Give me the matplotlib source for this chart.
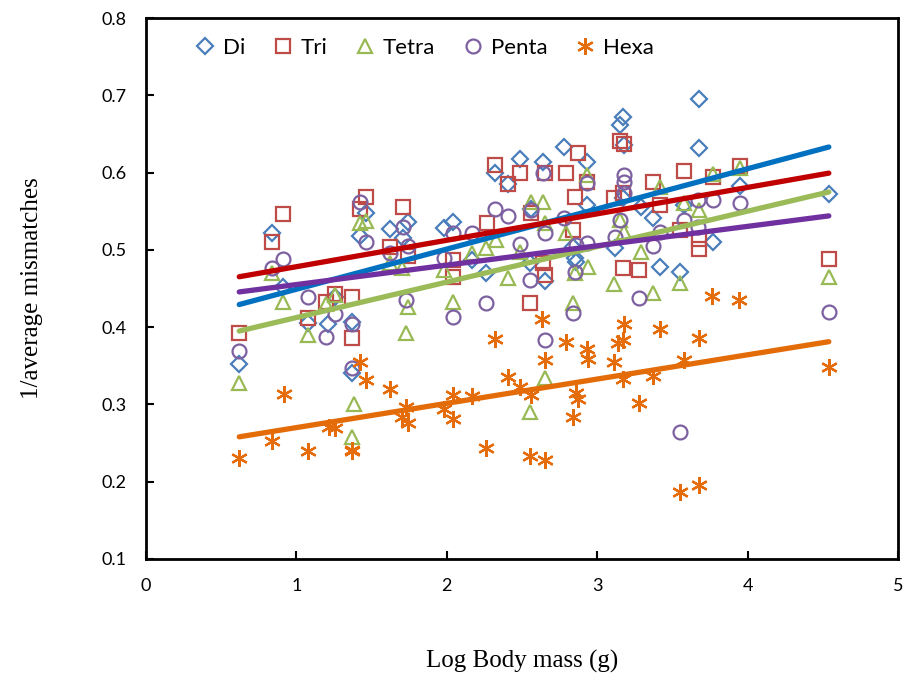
import matplotlib
matplotlib.use('Agg')
import matplotlib.pyplot as plt
import numpy as np

# 数据：log 体重 与 1/平均错配数
di_x = [0.62, 0.84, 0.91, 1.08, 1.21, 1.26, 1.37, 1.37, 1.42, 1.46, 1.62, 1.71, 1.74, 1.98, 2.04,
        2.17, 2.26, 2.32, 2.41, 2.49, 2.55, 2.56, 2.64, 2.65, 2.78, 2.84, 2.85, 2.86, 2.93, 2.93,
        3.12, 3.15, 3.17, 3.17, 3.18, 3.29, 3.37, 3.42, 3.55, 3.58, 3.68, 3.68, 3.77, 3.95, 4.54]
di_y = [0.352, 0.522, 0.452, 0.405, 0.404, 0.439, 0.407, 0.341, 0.518, 0.548, 0.527, 0.515, 0.536, 0.528, 0.536,
        0.487, 0.470, 0.599, 0.585, 0.618, 0.483, 0.553, 0.614, 0.460, 0.633, 0.504, 0.489, 0.484, 0.614, 0.558,
        0.502, 0.662, 0.672, 0.567, 0.636, 0.555, 0.541, 0.478, 0.471, 0.558, 0.695, 0.632, 0.510, 0.583, 0.572]

tri_x = [0.62, 0.84, 0.91, 1.08, 1.20, 1.26, 1.37, 1.37, 1.42, 1.46, 1.62, 1.71, 1.74, 2.04, 2.04,
         2.27, 2.32, 2.41, 2.49, 2.55, 2.56, 2.64, 2.65, 2.65, 2.79, 2.84, 2.85, 2.87, 2.93, 3.11,
         3.15, 3.17, 3.18, 3.17, 3.28, 3.37, 3.42, 3.55, 3.58, 3.68, 3.68, 3.77, 3.95, 4.54]
tri_y = [0.392, 0.510, 0.546, 0.412, 0.433, 0.443, 0.439, 0.386, 0.553, 0.568, 0.504, 0.555, 0.492, 0.487, 0.465,
         0.535, 0.610, 0.585, 0.599, 0.431, 0.548, 0.483, 0.467, 0.599, 0.599, 0.526, 0.568, 0.625, 0.588, 0.567,
         0.641, 0.574, 0.637, 0.477, 0.474, 0.588, 0.558, 0.526, 0.602, 0.514, 0.501, 0.594, 0.609, 0.488]

tetra_x = [0.62, 0.84, 0.91, 1.08, 1.20, 1.26, 1.37, 1.38, 1.42, 1.46, 1.62, 1.70, 1.73, 1.74, 1.98,
           2.04, 2.17, 2.26, 2.33, 2.41, 2.49, 2.55, 2.56, 2.64, 2.65, 2.65, 2.79, 2.84, 2.85, 2.93,
           2.94, 3.11, 3.15, 3.18, 3.29, 3.37, 3.42, 3.55, 3.58, 3.68, 3.77, 3.95, 4.54]
tetra_y = [0.328, 0.470, 0.433, 0.390, 0.430, 0.442, 0.258, 0.301, 0.535, 0.537, 0.483, 0.477, 0.392, 0.426, 0.474,
           0.433, 0.496, 0.502, 0.513, 0.464, 0.497, 0.290, 0.562, 0.562, 0.334, 0.535, 0.522, 0.431, 0.470, 0.597,
           0.478, 0.456, 0.539, 0.523, 0.497, 0.444, 0.581, 0.457, 0.561, 0.552, 0.598, 0.606, 0.465]

penta_x = [0.62, 0.84, 0.91, 1.08, 1.20, 1.26, 1.37, 1.37, 1.42, 1.46, 1.62, 1.71, 1.74, 1.73, 1.98,
           2.04, 2.04, 2.17, 2.26, 2.32, 2.41, 2.49, 2.55, 2.56, 2.64, 2.65, 2.65, 2.78, 2.84, 2.85,
           2.86, 2.93, 2.93, 3.12, 3.15, 3.18, 3.18, 3.18, 3.28, 3.37, 3.42, 3.55, 3.58, 3.67, 3.67,
           3.77, 3.95, 4.54]
penta_y = [0.369, 0.477, 0.488, 0.439, 0.387, 0.417, 0.404, 0.347, 0.562, 0.510, 0.496, 0.530, 0.505, 0.435, 0.489,
           0.522, 0.413, 0.522, 0.431, 0.553, 0.544, 0.508, 0.461, 0.552, 0.599, 0.522, 0.383, 0.541, 0.418, 0.471,
           0.506, 0.587, 0.509, 0.517, 0.539, 0.574, 0.597, 0.588, 0.438, 0.505, 0.523, 0.264, 0.539, 0.530, 0.565,
           0.565, 0.561, 0.420]

hexa_x = [0.62, 0.84, 0.92, 1.08, 1.22, 1.26, 1.37, 1.37, 1.42, 1.46, 1.62, 1.70, 1.73, 1.74, 1.98,
          2.04, 2.04, 2.17, 2.26, 2.32, 2.41, 2.49, 2.55, 2.56, 2.63, 2.65, 2.65, 2.79, 2.84, 2.86,
          2.87, 2.93, 2.94, 3.11, 3.14, 3.17, 3.17, 3.18, 3.28, 3.37, 3.42, 3.55, 3.58, 3.68, 3.68,
          3.76, 3.94, 4.54]
hexa_y = [0.231, 0.253, 0.314, 0.240, 0.271, 0.270, 0.241, 0.240, 0.355, 0.332, 0.320, 0.284, 0.297, 0.276, 0.294,
          0.281, 0.312, 0.311, 0.244, 0.385, 0.336, 0.323, 0.233, 0.312, 0.411, 0.358, 0.228, 0.381, 0.284, 0.315,
          0.307, 0.372, 0.359, 0.355, 0.380, 0.383, 0.333, 0.404, 0.302, 0.337, 0.398, 0.187, 0.358, 0.386, 0.196,
          0.440, 0.435, 0.348]

# 趋势线（斜率, 截距）
trend_slope = [0.0520, 0.0342, 0.0459, 0.0251, 0.0314]
trend_intercept = [0.397, 0.444, 0.3665, 0.430, 0.2386]

names = ['Di', 'Tri', 'Tetra', 'Penta', 'Hexa']
xs = [di_x, tri_x, tetra_x, penta_x, hexa_x]
ys = [di_y, tri_y, tetra_y, penta_y, hexa_y]
marker_colors = ['#4a7ebb', '#be4b48', '#98b954', '#7d60a0', '#e46c0a']
line_colors = ['#0070c0', '#c00000', '#9bbb59', '#7030a0', '#e36c09']
markers = ['D', 's', '^', 'o', (6, 2, 0)]
sizes = [8, 10, 10, 10, 12]

fig = plt.figure(figsize=(9.09, 6.75), dpi=100)
ax = fig.add_axes([0.1606, 0.1719, 0.8273, 0.8014])

for i in range(5):
    ax.plot(xs[i], ys[i], linestyle='none', marker=markers[i], markersize=sizes[i],
            markerfacecolor='none', markeredgecolor=marker_colors[i], markeredgewidth=1.6,
            label=names[i], zorder=3)

for i in range(5):
    xx = np.array([min(xs[i]), max(xs[i])])
    ax.plot(xx, trend_slope[i] * xx + trend_intercept[i], color=line_colors[i],
            linewidth=3.8, solid_capstyle='round', zorder=4)

ax.set_xlim(0, 5)
ax.set_ylim(0.1, 0.8)
ax.set_xticks([0, 1, 2, 3, 4, 5])
ax.set_yticks([0.1, 0.2, 0.3, 0.4, 0.5, 0.6, 0.7, 0.8])
ax.set_xticklabels(['0', '1', '2', '3', '4', '5'], fontfamily='Lato', fontsize=13)
ax.set_yticklabels(['0.1', '0.2', '0.3', '0.4', '0.5', '0.6', '0.7', '0.8'], fontfamily='Lato', fontsize=13)
ax.tick_params(direction='in', length=6, width=1.5, pad=14)
ax.tick_params(axis='x', pad=14)
for s in ax.spines.values():
    s.set_linewidth(2)

ax.set_xlabel('Log Body mass (g)', fontfamily='Liberation Serif', fontsize=18, labelpad=40)
ax.set_ylabel('1/average mismatches', fontfamily='Liberation Serif', fontsize=18, labelpad=42)

leg = ax.legend(loc='upper left', bbox_to_anchor=(0.04, 1.0), ncol=5, frameon=False,
                prop={'family': 'Lato', 'size': 16}, handlelength=0.8, handletextpad=0.4,
                columnspacing=1.3, borderpad=0.4)

fig.savefig('out.png', dpi=100)
